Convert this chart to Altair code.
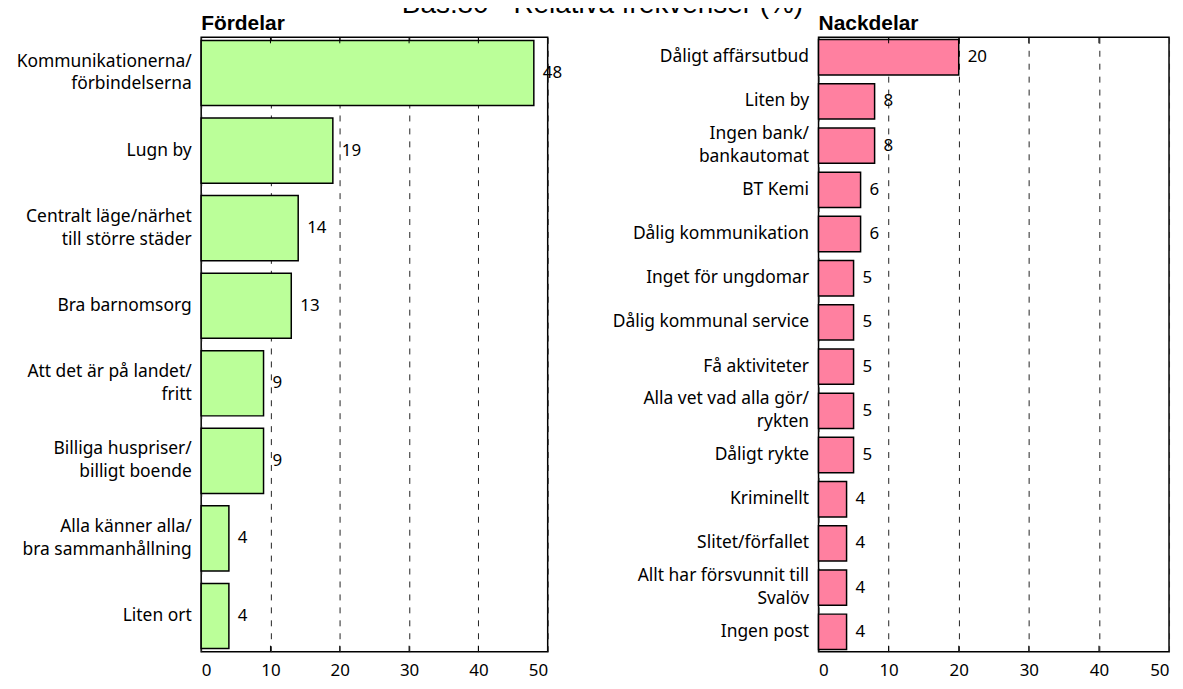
import altair as alt
import pandas as pd

pro_labels = [
    "Kommunikationerna/|förbindelserna",
    "Lugn by",
    "Centralt läge/närhet|till större städer",
    "Bra barnomsorg",
    "Att det är på landet/|fritt",
    "Billiga huspriser/|billigt boende",
    "Alla känner alla/|bra sammanhållning",
    "Liten ort",
]
pro_values = [48, 19, 14, 13, 9, 9, 4, 4]

con_labels = [
    "Dåligt affärsutbud",
    "Liten by",
    "Ingen bank/|bankautomat",
    "BT Kemi",
    "Dålig kommunikation",
    "Inget för ungdomar",
    "Dålig kommunal service",
    "Få aktiviteter",
    "Alla vet vad alla gör/|rykten",
    "Dåligt rykte",
    "Kriminellt",
    "Slitet/förfallet",
    "Allt har försvunnit till|Svalöv",
    "Ingen post",
]
con_values = [20, 8, 8, 6, 6, 5, 5, 5, 5, 5, 4, 4, 4, 4]

x_ticks = [0, 10, 20, 30, 40, 50]
inner_ticks = [10, 20, 30, 40]

FONT = "Noto Sans"
LH = 23
H = 617


def panel(labels, values, title, color, width, pad_inner, extent):
    df = pd.DataFrame({"cat": labels, "val": values})
    tdf = pd.DataFrame({"t": inner_ticks})
    y = alt.Y(
        "cat:N",
        sort=labels,
        title=None,
        scale=alt.Scale(paddingInner=pad_inner, paddingOuter=pad_inner / 4),
        axis=alt.Axis(
            labelExpr="split(datum.label, '|')",
            labelFont=FONT,
            labelFontSize=17.5,
            labelColor="#000",
            labelLineHeight=LH,
            labelPadding=10,
            labelLimit=300,
            labelOffset={
                "condition": {"test": "indexof(datum.value, '|') >= 0", "value": -LH / 2},
                "value": 0,
            },
            ticks=False,
            domain=False,
            minExtent=extent,
            maxExtent=extent,
        ),
    )
    x = alt.X(
        "val:Q",
        title=None,
        scale=alt.Scale(domain=[0, 50]),
        axis=alt.Axis(
            values=x_ticks,
            labelFont=FONT,
            labelFontSize=17,
            labelColor="#000",
            labelPadding=11,
            ticks=False,
            domain=False,
            grid=True,
            gridDash=[6, 7],
            gridColor="#222",
            gridWidth=1,
        ),
    )
    bars = alt.Chart(df).mark_bar(color=color, stroke="#000", strokeWidth=1.5).encode(
        x=x, y=y
    )
    text = alt.Chart(df).mark_text(
        align="left", dx=9, font=FONT, fontSize=17, color="#000"
    ).encode(x="val:Q", y=alt.Y("cat:N", sort=labels), text="val:Q")
    top_ticks = alt.Chart(tdf).mark_rule(color="#000", strokeWidth=1).encode(
        x="t:Q", y=alt.value(0), y2=alt.value(6)
    )
    bottom_ticks = alt.Chart(tdf).mark_rule(color="#000", strokeWidth=1).encode(
        x="t:Q", y=alt.value(H - 6), y2=alt.value(H)
    )
    return (bars + text + top_ticks + bottom_ticks).properties(
        width=width,
        height=H,
        title=alt.TitleParams(
            title,
            anchor="start",
            frame="group",
            font="Liberation Sans",
            fontSize=21,
            fontWeight="bold",
            offset=3,
        ),
    )


left = panel(pro_labels, pro_values, "Fördelar", "#BBFF99", 348, 0.16, 188)
right = panel(con_labels, con_values, "Nackdelar", "#FF80A0", 352, 0.2, 240)

chart = (
    alt.hconcat(left, right, spacing=15)
    .properties(
        title=alt.TitleParams(
            "Bas:80 - Relativa frekvenser (%)",
            anchor="middle",
            font="Liberation Sans",
            fontSize=28,
            fontWeight="normal",
            dx=11,
            offset=-7,
        ),
        padding={"top": -19, "left": 5, "right": 5, "bottom": 5},
    )
    .configure_view(stroke="#000", strokeWidth=1.5)
)

chart.save("out.html", embed_options={"renderer": "svg", "actions": False})
